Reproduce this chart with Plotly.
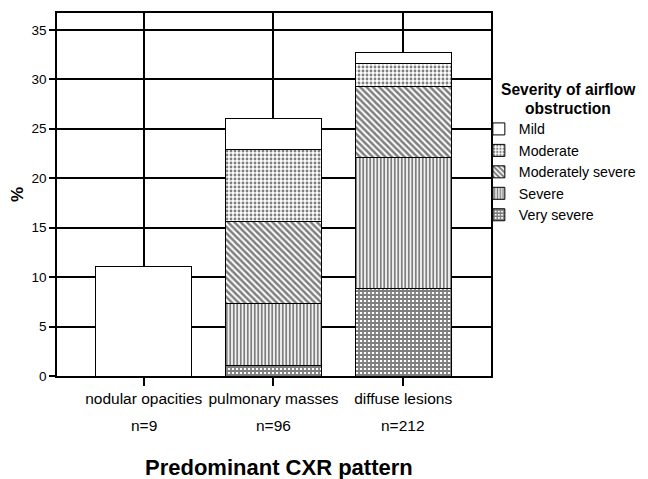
import plotly.graph_objects as go

categories = ["nodular opacities", "pulmonary masses", "diffuse lesions"]
n_labels = ["n=9", "n=96", "n=212"]
severity = ["Mild", "Moderate", "Moderately severe", "Severe", "Very severe"]
very_severe = [0.0, 1.04, 8.87]
severe = [0.0, 6.25, 13.25]
moderately_severe = [0.0, 8.35, 7.2]
moderate = [0.0, 7.3, 2.3]
mild = [11.06, 3.1, 1.05]
y_ticks = [0, 5, 10, 15, 20, 25, 30, 35]
legend_title = ["Severity of airflow", "obstruction"]

values = {
    "Very severe": very_severe,
    "Severe": severe,
    "Moderately severe": moderately_severe,
    "Moderate": moderate,
    "Mild": mild,
}
patterns = {
    "Very severe": dict(shape="+", size=4, solidity=0.7),
    "Severe": dict(shape="|", size=3.5, solidity=0.55),
    "Moderately severe": dict(shape="\\", size=4.5, solidity=0.55),
    "Moderate": dict(shape=".", size=4, solidity=0.4),
    "Mild": dict(shape="", size=4, solidity=0.3),
}
stack_order = ["Very severe", "Severe", "Moderately severe", "Moderate", "Mild"]

fig = go.Figure()
for s in stack_order:
    p = patterns[s]
    fig.add_trace(go.Bar(
        x=categories, y=values[s], name=s, width=0.738,
        legendrank=severity.index(s) + 1,
        marker=dict(color="white", line=dict(color="black", width=1),
                    pattern=dict(shape=p["shape"], fgcolor="black", bgcolor="white",
                                 size=p["size"], solidity=p["solidity"], fillmode="overlay")),
    ))

font = "Liberation Sans, Arial, sans-serif"
# page body has an 8px margin, so the figure is sized 8px smaller and margins shifted
fig.update_layout(
    barmode="stack",
    width=640, height=471,
    margin=dict(l=49, r=157, t=5, b=103, autoexpand=False),
    paper_bgcolor="white", plot_bgcolor="white",
    font=dict(family=font, size=15.5, color="black"),
    showlegend=True,
    legend=dict(
        x=0.972, xanchor="left", y=0.724, yanchor="top",
        traceorder="normal",
        font=dict(size=14.2), itemwidth=30, tracegroupgap=0,
        bgcolor="rgba(0,0,0,0)",
    ),
    xaxis=dict(
        range=[-0.669, 2.677], showgrid=True, gridcolor="black", gridwidth=1.5,
        showline=True, linecolor="black", linewidth=1.5, mirror=True,
        ticks="outside", ticklen=8, tickcolor="black", tickwidth=1.5,
        tickfont=dict(size=15.5), automargin=False,
    ),
    yaxis=dict(
        range=[0, 36.7], tickvals=y_ticks, showgrid=True, gridcolor="black", gridwidth=1.5,
        showline=True, linecolor="black", linewidth=1.5, mirror=True,
        ticks="outside", ticklen=6, tickcolor="black", tickwidth=1.5,
        tickfont=dict(size=13.5), zeroline=False, automargin=False,
        title=dict(text="<b>%</b>", font=dict(size=17), standoff=4),
    ),
)

for c, n in zip(categories, n_labels):
    fig.add_annotation(x=c, y=-0.135, xref="x", yref="paper", text=n, showarrow=False,
                       font=dict(size=15.5), xanchor="center", yanchor="middle")
fig.add_annotation(x=0.5115, xref="paper", y=-0.253, yref="paper",
                   text="<b>Predominant CXR pattern</b>", showarrow=False,
                   font=dict(size=22), xanchor="center", yanchor="middle")
for line, yp in zip(legend_title, [0.789, 0.738]):
    fig.add_annotation(x=1.178, xref="paper", y=yp, yref="paper",
                       text="<b>" + line + "</b>", showarrow=False,
                       font=dict(size=15.6), xanchor="center", yanchor="middle")

fig.write_html("out.html")
